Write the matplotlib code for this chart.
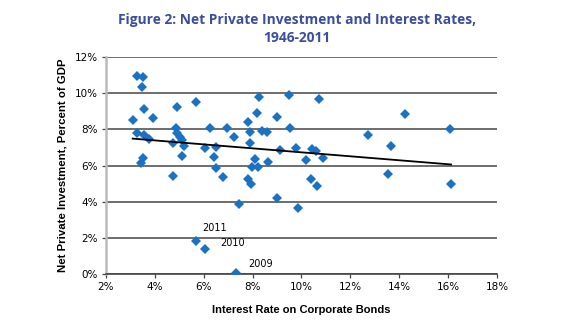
import numpy as np
import matplotlib
matplotlib.use('Agg')
import matplotlib.pyplot as plt
from matplotlib.ticker import FuncFormatter

# interest rate on corporate bonds (%), net private investment (% of GDP), 1946-2011
rate = [3.25, 3.51, 3.46, 3.56, 3.09, 3.91, 3.27, 3.56, 3.77, 3.52, 3.44,
        4.90, 5.70, 4.87, 4.91, 5.01, 5.09, 4.73, 5.21, 5.11, 4.75,
        6.07, 6.24, 6.97, 7.24, 6.50, 6.41, 6.49, 6.78,
        7.82, 8.26, 8.16, 7.89, 8.37, 8.57, 8.99, 9.49, 9.52, 7.89,
        9.12, 9.77, 8.08, 7.97, 8.24, 8.62, 7.82, 7.93,
        10.71, 12.72, 10.43, 10.61, 10.20, 10.86, 10.38, 10.64,
        13.56, 13.68, 14.22, 16.07, 16.12,
        7.45, 9.00, 9.84, 5.67, 6.05, 7.33]
invest = [10.93, 10.89, 10.34, 9.15, 8.51, 8.62, 7.81, 7.66, 7.46, 6.41, 6.15,
          9.25, 9.50, 8.10, 7.77, 7.57, 7.42, 7.25, 7.09, 6.52, 5.41,
          6.99, 8.06, 8.10, 7.60, 7.01, 6.48, 5.85, 5.35,
          8.38, 9.78, 8.91, 7.86, 7.92, 7.86, 8.66, 9.89, 8.10, 7.22,
          6.83, 6.96, 6.37, 5.92, 5.94, 6.20, 5.26, 4.97,
          9.69, 7.70, 6.92, 6.79, 6.31, 6.39, 5.24, 4.87,
          5.54, 7.07, 8.86, 8.01, 4.97,
          3.86, 4.23, 3.67, 1.83, 1.38, 0.07]

label_years = ['2011', '2010', '2009']
label_rate = [5.67, 6.05, 7.33]
label_invest = [1.83, 1.38, 0.07]
label_offsets = [(4.5, 7), (11, 2.2), (9, 4)]

x = np.array(rate) / 100
y = np.array(invest) / 100

fig = plt.figure(figsize=(5.84, 3.33), dpi=100)
ax = fig.add_axes([0.1815, 0.177, 0.6695, 0.652])

ax.plot(x, y, 'D', color='#1a72c4', markersize=5.2, markeredgewidth=0, zorder=3)

# linear trend
m, b = np.polyfit(x, y, 1)
xs = np.array([x.min(), x.max()])
ax.plot(xs, m * xs + b, color='black', linewidth=1.3, zorder=4)

for yr, rx, ry, off in zip(label_years, label_rate, label_invest, label_offsets):
    ax.annotate(yr, (rx / 100, ry / 100), xytext=off, textcoords='offset points',
                fontsize=7, color='black')

ax.set_xlim(0.02, 0.18)
ax.set_ylim(0, 0.12)
ax.set_xticks(np.arange(0.02, 0.181, 0.02))
ax.set_yticks(np.arange(0, 0.121, 0.02))
pct = FuncFormatter(lambda v, p: f'{v * 100:.0f}%')
ax.xaxis.set_major_formatter(pct)
ax.yaxis.set_major_formatter(pct)
ax.tick_params(labelsize=7.5, length=3, width=0.9, color='#444444', pad=3)
ax.yaxis.grid(True, color='#555555', linewidth=1.2)
ax.set_axisbelow(True)

for s in ['top', 'right']:
    ax.spines[s].set_visible(False)
ax.spines['left'].set_color('#bbbbbb')
ax.spines['left'].set_linewidth(1.8)
ax.spines['bottom'].set_color('#444444')
ax.spines['bottom'].set_linewidth(1.2)

lab_font = ['Liberation Sans', 'DejaVu Sans']
ax.set_xlabel('Interest Rate on Corporate Bonds', fontsize=8.0, fontweight='bold',
              family=lab_font, labelpad=9)
ax.set_ylabel('Net Private Investment, Percent of GDP', fontsize=8.2, fontweight='bold',
              family=lab_font, labelpad=5)

fig.text(0.508, 0.912, 'Figure 2: Net Private Investment and Interest Rates,\n1946-2011',
         ha='center', va='center', fontsize=9.9, fontweight='bold', color='#3a4d9f',
         family=['Open Sans', 'DejaVu Sans'], linespacing=1.35)

fig.savefig('out.png', dpi=100)
